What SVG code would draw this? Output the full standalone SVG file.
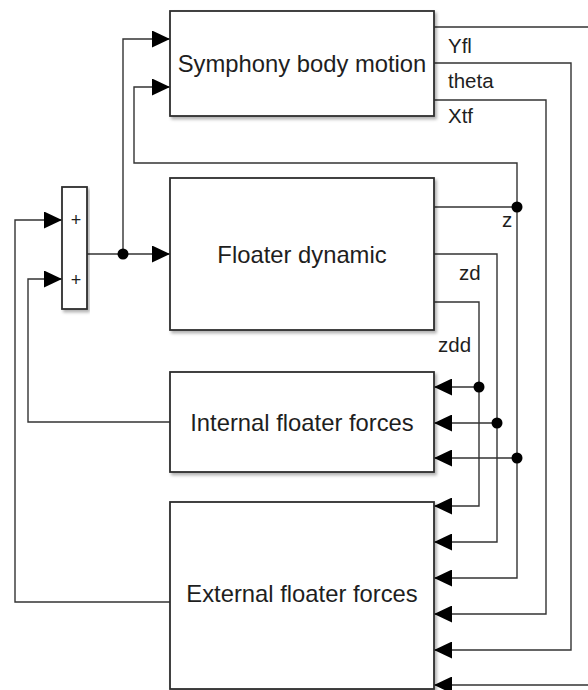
<svg xmlns="http://www.w3.org/2000/svg" width="588" height="690" viewBox="0 0 588 690">
<style>
.blk{fill:#fff;stroke:#2e2e2e;stroke-width:1.8;filter:url(#sh)}
.lbl{font-family:"Liberation Sans",Arial,sans-serif;font-size:23.8px;fill:#1e1e1e;text-anchor:middle}
.sig{font-family:"Liberation Sans",Arial,sans-serif;font-size:20.5px;fill:#1e1e1e}
.pl{font-family:"Liberation Sans",Arial,sans-serif;font-size:18px;fill:#1e1e1e;text-anchor:middle}
.ln{fill:none;stroke:#333;stroke-width:1.4}
.ar{marker-end:url(#ah)}
.dot{fill:#000}
</style>
<defs>
<filter id="sh" x="-10%" y="-10%" width="120%" height="125%">
<feDropShadow dx="2" dy="2.5" stdDeviation="1.5" flood-color="#000" flood-opacity="0.3"/>
</filter>
<marker id="ah" markerUnits="userSpaceOnUse" markerWidth="18" markerHeight="17" refX="18" refY="8.5" orient="auto">
<path d="M0,0 L18,8.5 L0,17 z" fill="#000"/>
</marker>
</defs>
<rect width="588" height="690" fill="#fff"/>
<g id="connectors">
<path class="ln ar" d="M87,254 H170"/>
<path class="ln ar" d="M123,254 V39 H170"/>
<path class="ln ar" d="M517,207 V163 H134 V87 H170"/>
<path class="ln" d="M434,207 H517"/>
<path class="ln ar" d="M517,207 V458 H434"/>
<path class="ln ar" d="M517,458 V578 H434"/>
<path class="ln ar" d="M434,254 H497 V423 H434"/>
<path class="ln ar" d="M497,423 V542 H434"/>
<path class="ln ar" d="M434,302 H479 V387 H434"/>
<path class="ln ar" d="M479,387 V506 H434"/>
<path class="ln ar" d="M434,27 H600 V685 H434"/>
<path class="ln ar" d="M434,63 H571 V650 H434"/>
<path class="ln ar" d="M434,100 H546 V614 H434"/>
<path class="ln ar" d="M170,422 H28 V279 H62"/>
<path class="ln ar" d="M170,602 H15 V220 H62"/>
<circle class="dot" cx="123" cy="254" r="5.5"/>
<circle class="dot" cx="517" cy="207" r="5.5"/>
<circle class="dot" cx="517" cy="458" r="5.5"/>
<circle class="dot" cx="497" cy="423" r="5.5"/>
<circle class="dot" cx="479" cy="387" r="5.5"/>
<text class="sig" x="448" y="53">Yfl</text>
<text class="sig" x="448" y="88">theta</text>
<text class="sig" x="448" y="123">Xtf</text>
<text class="sig" x="502" y="227">z</text>
<text class="sig" x="459" y="280">zd</text>
<text class="sig" x="438" y="352">zdd</text>
</g>
<g id="sum">
<rect class="blk" x="62" y="187" width="25" height="122"/>
<text class="pl" x="76" y="226">+</text>
<text class="pl" x="76" y="286">+</text>
</g>
<g id="symphony">
<rect class="blk" x="170" y="11" width="264" height="105"/>
<text class="lbl" x="302" y="72">Symphony body motion</text>
</g>
<g id="floater">
<rect class="blk" x="170" y="178" width="264" height="152"/>
<text class="lbl" x="302" y="263">Floater dynamic</text>
</g>
<g id="internal">
<rect class="blk" x="170" y="372" width="264" height="100"/>
<text class="lbl" x="302" y="431">Internal floater forces</text>
</g>
<g id="external">
<rect class="blk" x="170" y="502" width="264" height="187"/>
<text class="lbl" x="302" y="602">External floater forces</text>
</g>
</svg>
